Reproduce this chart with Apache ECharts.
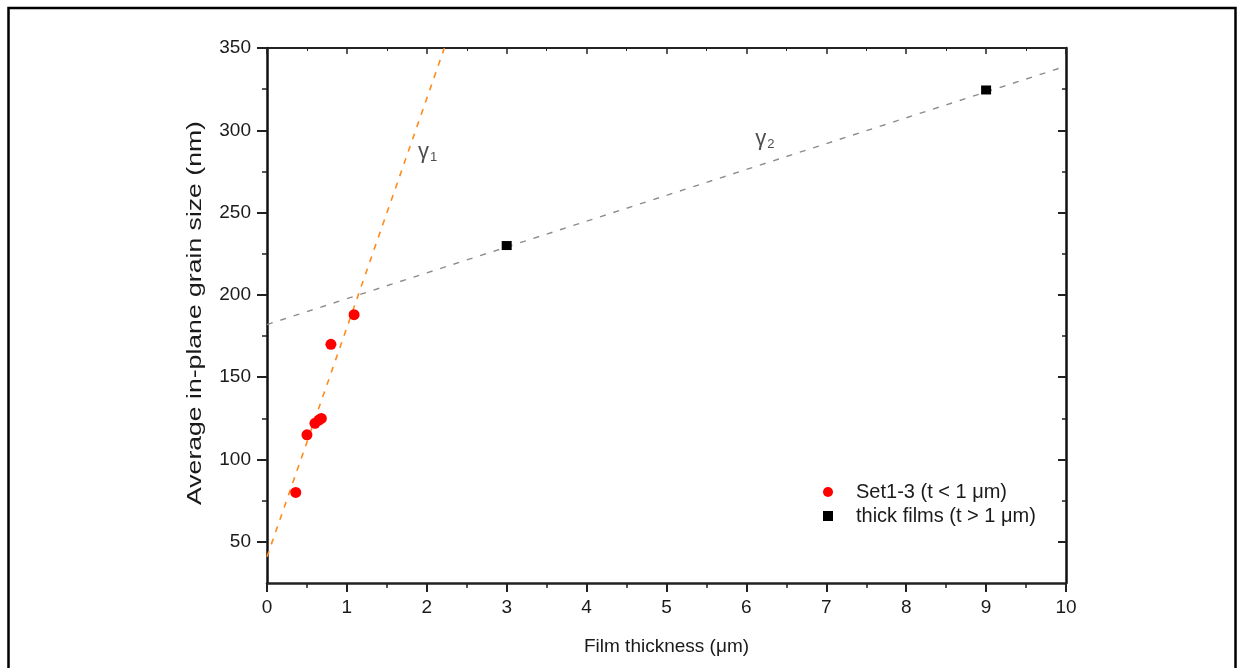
<!DOCTYPE html>
<html>
<head>
<meta charset="utf-8">
<script src="https://cdn.jsdelivr.net/npm/echarts@6/dist/echarts.min.js"></script>
<style>
html,body{margin:0;padding:0;background:#fff;}
#chart{width:1237px;height:668px;}
</style>
</head>
<body>
<div id="chart"></div>
<script>
// Data
const set13 = [[0.36, 80], [0.50, 115], [0.60, 122], [0.65, 124], [0.68, 125], [0.80, 170], [1.09, 188]];
const thickFilms = [[3.0, 230], [9.0, 324.5]];
const fitGamma1 = [[0, 41], [2.22, 350]];
const fitGamma2 = [[0, 182], [10, 339]];
const gammaLabels = [{x: 2.01, y: 287, sub: '1'}, {x: 6.23, y: 295, sub: '2'}];
const yMajorTicks = [50, 100, 150, 200, 250, 300, 350];
const yMinorTicks = [75, 125, 175, 225, 275, 325];
const seriesNames = ['Set1-3 (t < 1 μm)', 'thick films (t > 1 μm)'];
const yAxisTitle = 'Average in-plane grain size (nm)';
const xAxisTitle = 'Film thickness (μm)';

const FONT = '"Liberation Sans", Arial, sans-serif';
const TXT = '#1a1a1a';

const chart = echarts.init(document.getElementById('chart'));
chart.setOption({
  backgroundColor: '#fff',
  animation: false,
  graphic: [{
    type: 'rect', silent: true,
    shape: {x: 8.5, y: 8, width: 1227, height: 700},
    style: {fill: 'none', stroke: '#000', lineWidth: 2.5}
  }, {
    type: 'text', silent: true,
    x: 195, y: 313, rotation: Math.PI / 2, scaleX: 1.33, scaleY: 1,
    style: {text: yAxisTitle, fontFamily: FONT, fontSize: 20, fill: TXT,
            textAlign: 'center', textVerticalAlign: 'middle'}
  }],
  grid: {left: 267, right: 171, top: 48, bottom: 85},
  legend: {
    orient: 'vertical', left: 823, top: 482, itemGap: 4, padding: 0,
    itemWidth: 10, itemHeight: 10,
    data: seriesNames,
    textStyle: {fontFamily: FONT, fontSize: 20, color: TXT, padding: [0, 0, 0, 18]}
  },
  xAxis: [{
    type: 'value', min: 0, max: 10, interval: 1,
    name: xAxisTitle, nameLocation: 'middle', nameGap: 54,
    nameTextStyle: {fontFamily: FONT, fontSize: 19, color: TXT},
    axisLine: {show: true, lineStyle: {color: '#222', width: 2.5}},
    axisTick: {show: true, inside: false, length: 9, lineStyle: {color: '#222', width: 2}},
    minorTick: {show: true, splitNumber: 2, length: 5, lineStyle: {color: '#222', width: 1.5}},
    axisLabel: {fontFamily: FONT, fontSize: 19, color: TXT, margin: 15},
    splitLine: {show: false}
  }, {
    type: 'value', min: 0, max: 10, interval: 1, position: 'top',
    axisLine: {show: true, lineStyle: {color: '#222', width: 2}},
    axisTick: {show: true, inside: true, length: 6, lineStyle: {color: '#222', width: 1.5}},
    minorTick: {show: true, splitNumber: 2, length: 3, lineStyle: {color: '#222', width: 1}},
    axisLabel: {show: false}, splitLine: {show: false}
  }],
  yAxis: [{
    type: 'value', min: 25, max: 350, position: 'left',
    axisLine: {show: true, lineStyle: {color: '#111', width: 2.5}},
    axisTick: {show: true, inside: false, length: 10, customValues: yMajorTicks, lineStyle: {color: '#222', width: 2}},
    axisLabel: {fontFamily: FONT, fontSize: 19, color: TXT, margin: 16, customValues: yMajorTicks},
    splitLine: {show: false}
  }, {
    type: 'value', min: 25, max: 350, position: 'left',
    axisLine: {show: false},
    axisTick: {show: true, inside: false, length: 5, customValues: yMinorTicks, lineStyle: {color: '#222', width: 1.5}},
    axisLabel: {show: false}, splitLine: {show: false}
  }, {
    type: 'value', min: 25, max: 350, position: 'right',
    axisLine: {show: true, lineStyle: {color: '#111', width: 2.5}},
    axisTick: {show: true, inside: true, length: 8, customValues: yMajorTicks, lineStyle: {color: '#222', width: 2}},
    axisLabel: {show: false}, splitLine: {show: false}
  }, {
    type: 'value', min: 25, max: 350, position: 'right',
    axisLine: {show: false},
    axisTick: {show: true, inside: true, length: 4, customValues: yMinorTicks, lineStyle: {color: '#222', width: 1.5}},
    axisLabel: {show: false}, splitLine: {show: false}
  }],
  series: [{
    name: 'γ1 fit', type: 'line', data: fitGamma1, symbol: 'none', silent: true,
    lineStyle: {color: '#ff8a1c', width: 1.6, type: [6, 7]}, z: 1
  }, {
    name: 'γ2 fit', type: 'line', data: fitGamma2, symbol: 'none', silent: true,
    lineStyle: {color: '#8c8c8c', width: 1.4, type: [6, 8]}, z: 1
  }, {
    name: seriesNames[0], type: 'scatter', data: set13, symbol: 'circle', symbolSize: 11,
    itemStyle: {color: '#ff0000', opacity: 1}, z: 3
  }, {
    name: seriesNames[1], type: 'scatter', data: thickFilms, symbol: 'rect', symbolSize: [10, 9],
    itemStyle: {color: '#000', opacity: 1}, z: 3
  }, {
    name: 'labels', type: 'scatter', symbolSize: 0, silent: true,
    data: gammaLabels.map(g => ({value: [g.x, g.y], sub: g.sub})),
    label: {
      show: true, position: 'inside',
      formatter: p => '{g|γ}{s|' + p.data.sub + '}',
      rich: {
        g: {fontFamily: FONT, fontSize: 22, color: '#222'},
        s: {fontFamily: FONT, fontSize: 13, color: '#222', padding: [12, 0, 0, 1]}
      }
    }
  }]
});
</script>
</body>
</html>
